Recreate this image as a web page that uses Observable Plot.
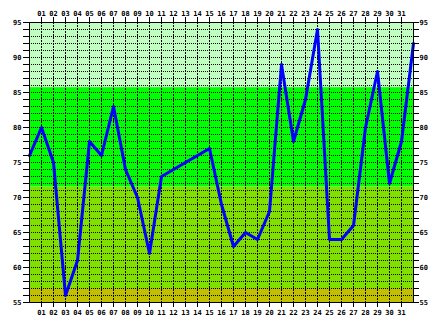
<!DOCTYPE html>
<html>
<head>
<meta charset="utf-8">
<script src="https://cdn.jsdelivr.net/npm/d3@7"></script>
<script src="https://cdn.jsdelivr.net/npm/@observablehq/plot@0.6"></script>
<style>
  html, body { margin: 0; padding: 0; background: #ffffff; }
  svg { display: block; }
</style>
</head>
<body>
<div id="chart"></div>
<script>
// Data
const days   = [0, 1, 2, 3, 4, 5, 6, 7, 8, 9, 10, 11, 15, 16, 17, 18, 19, 20, 21, 22, 23, 24, 25, 26, 27, 28, 29, 30, 31, 32];
const values = [76, 80, 75, 56, 61, 78, 76, 83, 74, 70, 62, 73, 77, 69, 63, 65, 64, 68, 89, 78, 84, 94, 64, 64, 66, 80, 88, 72, 78, 92];

// Background zones (value ranges)
const bandLow  = [55, 57, 71.5, 85.7];
const bandHigh = [57, 71.5, 85.7, 95];
const bandFill = ["#c0c000", "#80e000", "#00ff00", "#c0ffc0"];

// Axis ticks
const dayTicks = d3.range(1, 32);
const yTicks = d3.range(55, 96);

const series = days.map((d, i) => ({day: d, value: values[i]}));
const bands = bandLow.map((lo, i) => ({lo, hi: bandHigh[i], fill: bandFill[i]}));

const font = "'DejaVu Sans Mono', monospace";
const fmtDay = d => String(d).padStart(2, "0");
const fmtY = d => (d % 5 === 0 ? String(d) : "");

const chart = Plot.plot({
  width: 441,
  height: 325,
  marginLeft: 29,
  marginRight: 28,
  marginTop: 22,
  marginBottom: 23,
  style: {fontFamily: font, fontSize: "7px", fontWeight: "bold", background: "#ffffff", color: "black"},
  x: {domain: [0, 32]},
  y: {domain: [55, 95]},
  color: {type: "identity"},
  marks: [
    Plot.rect(bands, {x1: 0, x2: 32, y1: "lo", y2: "hi", fill: "fill"}),
    Plot.ruleY(yTicks.filter(v => v > 55 && v < 95), {stroke: "black", strokeWidth: 1, strokeDasharray: "1,1"}),
    Plot.ruleX(dayTicks, {stroke: "black", strokeWidth: 1, strokeDasharray: "2,1"}),
    Plot.line(series, {x: "day", y: "value", stroke: "#0000ff", strokeWidth: 3}),
    Plot.frame({stroke: "black"}),
    Plot.axisX({anchor: "top", ticks: dayTicks, tickFormat: fmtDay, tickSize: 6, tickPadding: 1, label: null}),
    Plot.axisX({anchor: "bottom", ticks: dayTicks, tickFormat: fmtDay, tickSize: 5, tickPadding: 3, label: null}),
    Plot.axisY({anchor: "left", ticks: yTicks, tickFormat: fmtY, tickSize: 6, tickPadding: 2, label: null}),
    Plot.axisY({anchor: "right", ticks: yTicks, tickFormat: fmtY, tickSize: 5, tickPadding: 1, label: null})
  ]
});
document.getElementById("chart").appendChild(chart);
</script>
</body>
</html>
